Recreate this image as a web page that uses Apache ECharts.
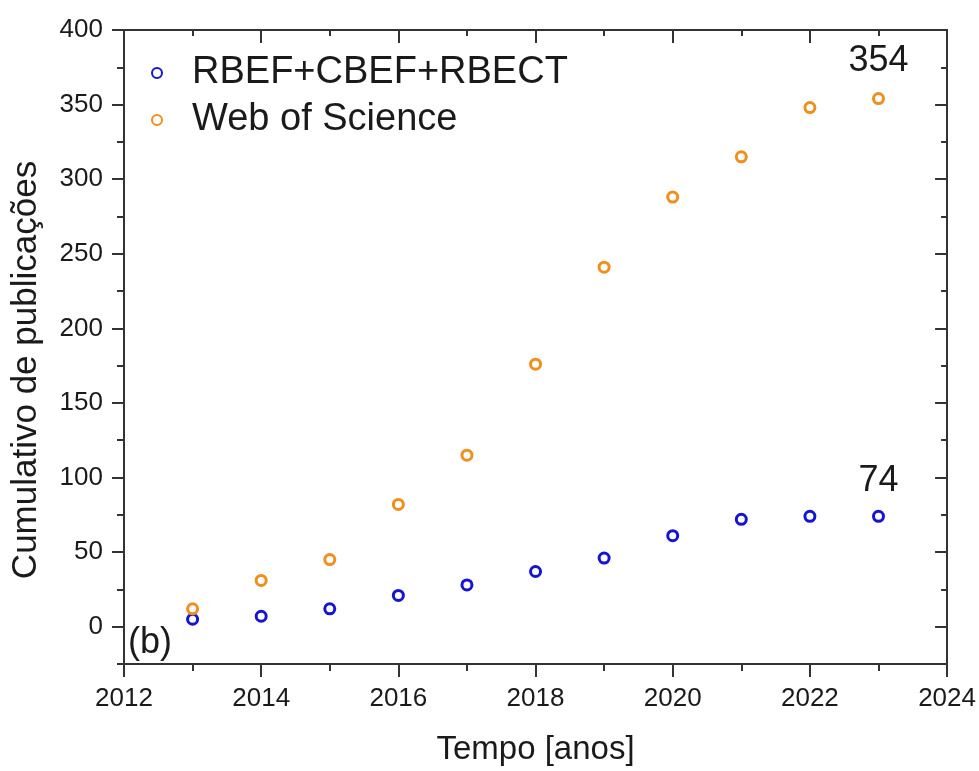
<!DOCTYPE html>
<html>
<head>
<meta charset="utf-8">
<script src="https://cdn.jsdelivr.net/npm/echarts@6/dist/echarts.min.js"></script>
<style>
html,body{margin:0;padding:0;background:#fff;overflow:hidden;}
#c{width:979px;height:771px;}
</style>
</head>
<body>
<div id="c"></div>
<script>
const years = [2013, 2014, 2015, 2016, 2017, 2018, 2019, 2020, 2021, 2022, 2023];
const rbef = [5, 7, 12, 21, 28, 37, 46, 61, 72, 74, 74];
const wos = [12, 31, 45, 82, 115, 176, 241, 288, 315, 348, 354];
const seriesNames = ['RBEF+CBEF+RBECT', 'Web of Science'];
const yTicks = [0, 50, 100, 150, 200, 250, 300, 350, 400];
const yMinorTicks = [-25, 25, 75, 125, 175, 225, 275, 325, 375];
const xTicksStart = 2012, xTicksEnd = 2024, xTickStep = 2;

const FONT = '"Liberation Sans", Arial, sans-serif';
const TXT = '#1a1a1a';
const AX = '#333';
const BLUE = '#1414d2';
const ORANGE = '#f08f1e';

function mkData(vals) {
  return years.map((y, i) => i === years.length - 1
    ? { value: [y, vals[i]], label: { show: true } }
    : { value: [y, vals[i]] });
}

const yBase = {
  type: 'value', min: -25, max: 400,
  splitLine: { show: false },
  axisLine: { show: true, lineStyle: { color: AX, width: 2 } }
};

const option = {
  animation: false,
  backgroundColor: '#fff',
  textStyle: { fontFamily: FONT },
  grid: { left: 124, right: 30, top: 30, bottom: 103, containLabel: false },
  legend: {
    orient: 'vertical', left: 146, top: 49,
    itemWidth: 60, itemHeight: 10, itemGap: 9,
    selectedMode: false,
    textStyle: { fontSize: 38, color: TXT, fontFamily: FONT },
    data: seriesNames
  },
  xAxis: [
    {
      type: 'value', position: 'bottom', min: xTicksStart, max: xTicksEnd, interval: xTickStep,
      name: 'Tempo [anos]', nameLocation: 'middle', nameGap: 69,
      nameTextStyle: { fontSize: 33, color: TXT, fontFamily: FONT },
      axisLine: { show: true, onZero: false, lineStyle: { color: AX, width: 2 } },
      axisTick: { show: true, inside: false, length: 13, lineStyle: { color: AX, width: 2 } },
      minorTick: { show: true, splitNumber: 2, length: 7, lineStyle: { color: AX, width: 2 } },
      axisLabel: { fontSize: 26, color: TXT, margin: 22, fontFamily: FONT, formatter: v => String(v) },
      splitLine: { show: false }
    },
    {
      type: 'value', position: 'top', min: xTicksStart, max: xTicksEnd, interval: xTickStep,
      axisLine: { show: true, onZero: false, lineStyle: { color: AX, width: 2 } },
      axisTick: { show: true, inside: true, length: 13, lineStyle: { color: AX, width: 2 } },
      minorTick: { show: true, splitNumber: 2, length: 6, lineStyle: { color: AX, width: 2 } },
      axisLabel: { show: false },
      splitLine: { show: false }
    }
  ],
  yAxis: [
    Object.assign({}, yBase, {
      position: 'left',
      name: 'Cumulativo de publicações', nameLocation: 'middle', nameGap: 80,
      nameTextStyle: { fontSize: 35, color: TXT, fontFamily: FONT, padding: [0, 46, 0, 0] },
      axisTick: { show: true, inside: false, length: 12, customValues: yTicks, lineStyle: { color: AX, width: 2 } },
      axisLabel: { fontSize: 26, color: TXT, margin: 21, customValues: yTicks, fontFamily: FONT }
    }),
    Object.assign({}, yBase, {
      position: 'left', axisLine: { show: false },
      axisTick: { show: true, inside: false, length: 7, customValues: yMinorTicks, lineStyle: { color: AX, width: 2 } },
      axisLabel: { show: false }
    }),
    Object.assign({}, yBase, {
      position: 'right',
      axisTick: { show: true, inside: true, length: 12, customValues: yTicks, lineStyle: { color: AX, width: 2 } },
      axisLabel: { show: false }
    }),
    Object.assign({}, yBase, {
      position: 'right', axisLine: { show: false },
      axisTick: { show: true, inside: true, length: 6, customValues: yMinorTicks, lineStyle: { color: AX, width: 2 } },
      axisLabel: { show: false }
    })
  ],
  graphic: [
    { type: 'text', left: 128, top: 625, style: { text: '(b)', fontSize: 36, fill: TXT, fontFamily: FONT } }
  ],
  series: [
    {
      name: seriesNames[0], type: 'scatter', xAxisIndex: 0, yAxisIndex: 0,
      symbol: 'circle', symbolSize: 10,
      itemStyle: { color: 'rgba(255,255,255,0)', borderColor: BLUE, borderWidth: 3, opacity: 1 },
      label: { show: false, position: 'top', distance: 11, fontSize: 36, color: TXT, opacity: 1,
               fontFamily: FONT, textBorderWidth: 0, formatter: p => String(p.value[1]) },
      data: mkData(rbef)
    },
    {
      name: seriesNames[1], type: 'scatter', xAxisIndex: 0, yAxisIndex: 0,
      symbol: 'circle', symbolSize: 10,
      itemStyle: { color: 'rgba(255,255,255,0)', borderColor: ORANGE, borderWidth: 3, opacity: 1 },
      label: { show: false, position: 'top', distance: 13, fontSize: 36, color: TXT, opacity: 1,
               fontFamily: FONT, textBorderWidth: 0, formatter: p => String(p.value[1]) },
      data: mkData(wos)
    }
  ]
};

const chart = echarts.init(document.getElementById('c'), null, { renderer: 'canvas' });
chart.setOption(option);
</script>
</body>
</html>
